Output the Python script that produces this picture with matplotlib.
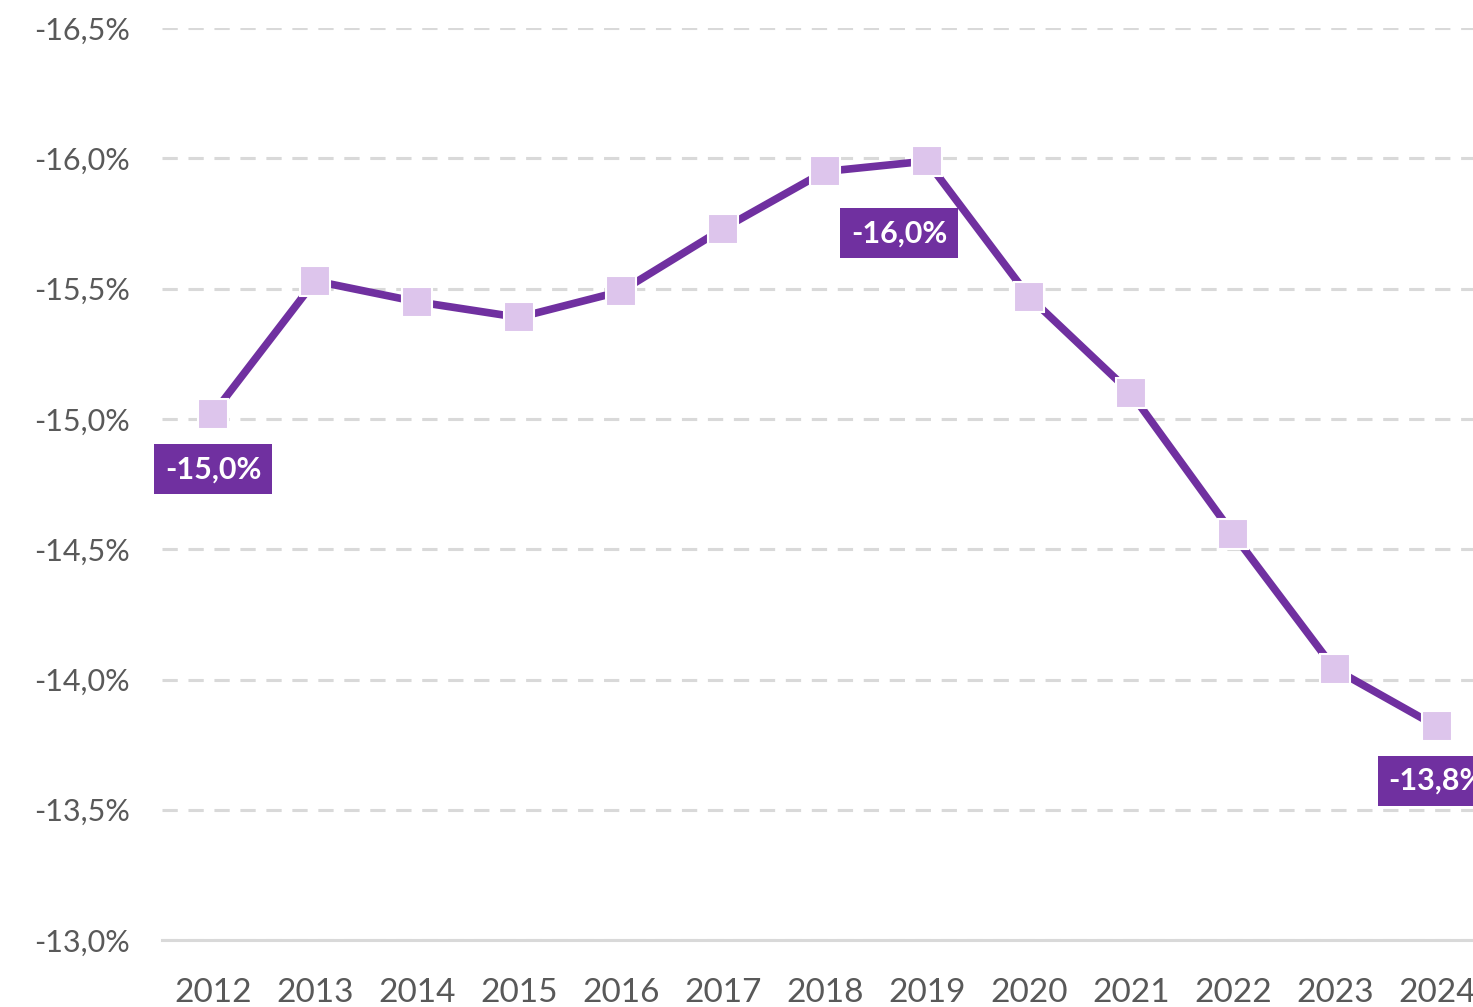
import matplotlib.pyplot as plt

years = [2012, 2013, 2014, 2015, 2016, 2017, 2018, 2019, 2020, 2021, 2022, 2023, 2024]
values = [-15.02, -15.53, -15.45, -15.39, -15.49, -15.73, -15.95, -15.99, -15.47, -15.10, -14.56, -14.04, -13.82]
yticks = [-16.5, -16.0, -15.5, -15.0, -14.5, -14.0, -13.5, -13.0]
labeled = {2012: "-15,0%", 2019: "-16,0%", 2024: "-13,8%"}

purple = "#7030A0"
light = "#DDC5EC"
grey = "#595959"

plt.rcParams['font.family'] = ['Lato', 'DejaVu Sans']

fig = plt.figure(figsize=(14.73, 10.07), dpi=100)
ax = fig.add_axes([0.110, 0.0665, 0.900, 0.9055])

ax.plot(years, values, color=purple, lw=5.5, marker="s", markersize=21,
        markerfacecolor=light, markeredgecolor="white", markeredgewidth=1.5,
        zorder=3, clip_on=False)

ax.set_xlim(2011.5, 2024.5)
ax.set_ylim(-13.0, -16.5)
ax.set_yticks(yticks)
ax.set_yticklabels([f"{v:.1f}%".replace(".", ",") for v in yticks])
ax.set_xticks(years)
ax.set_xticklabels([str(y) for y in years])

ax.grid(axis="y", color="#D9D9D9", lw=2.2, ls=(0, (5, 3.5)))
ax.set_axisbelow(True)
for s in ["top", "right", "left"]:
    ax.spines[s].set_visible(False)
ax.spines["bottom"].set_color("#D9D9D9")
ax.spines["bottom"].set_linewidth(2.2)
ax.spines["bottom"].set_zorder(2)

ax.tick_params(axis="y", length=0, pad=23, labelsize=22, labelcolor=grey)
ax.tick_params(axis="x", length=0, pad=27, labelsize=24, labelcolor=grey)

offsets = {2012: (0, -40), 2019: (-20, -52), 2024: (0, -39)}
for y, v in zip(years, values):
    if y in labeled:
        ax.annotate(labeled[y], (y, v), xytext=offsets[y], textcoords="offset points",
                    ha="center", va="center", color="white", fontsize=22, fontweight="bold",
                    bbox=dict(boxstyle="square,pad=0.36", fc=purple, ec="none"),
                    zorder=4, annotation_clip=False)

fig.savefig("out.png", dpi=100)
